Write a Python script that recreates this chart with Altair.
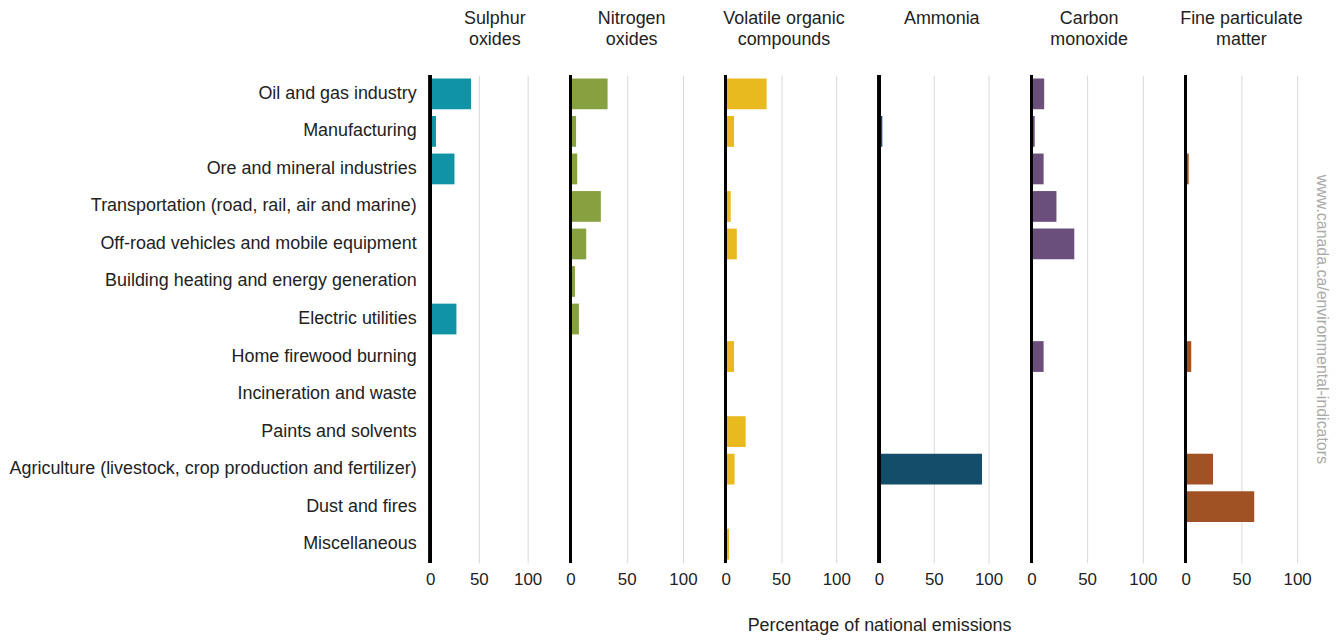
import altair as alt
import pandas as pd

categories = [
    "Oil and gas industry",
    "Manufacturing",
    "Ore and mineral industries",
    "Transportation (road, rail, air and marine)",
    "Off-road vehicles and mobile equipment",
    "Building heating and energy generation",
    "Electric utilities",
    "Home firewood burning",
    "Incineration and waste",
    "Paints and solvents",
    "Agriculture (livestock, crop production and fertilizer)",
    "Dust and fires",
    "Miscellaneous",
]

title_lines = [
    ["Sulphur", "oxides"],
    ["Nitrogen", "oxides"],
    ["Volatile organic", "compounds"],
    ["Ammonia", " "],
    ["Carbon", "monoxide"],
    ["Fine particulate", "matter"],
]

sulphur_oxides = [42, 6, 25, 0, 0, 0, 27, 0, 0, 0, 0, 0, 0]
nitrogen_oxides = [33, 5, 6, 27, 14, 4, 7.5, 0, 0, 0, 0, 0, 0]
volatile_organic = [37, 7.5, 0, 4.5, 10, 0, 0, 7.5, 0, 18, 8, 0, 3]
ammonia = [0, 3, 0, 0, 0, 0, 0, 0, 0, 0, 94, 0, 0]
carbon_monoxide = [11.5, 3, 11, 22.5, 38.5, 0, 0, 11, 0, 0, 0, 0, 0]
fine_pm = [0, 0, 2.7, 0, 0, 0, 0, 5, 0, 0, 24.5, 61.5, 0]

series = [sulphur_oxides, nitrogen_oxides, volatile_organic, ammonia, carbon_monoxide, fine_pm]
colors = ["#0F93A5", "#87A040", "#E9B920", "#134D69", "#6A4E7C", "#A05224"]
widths = [98, 113, 111, 110, 112, 112]
title_dx = [16, 5, 3, 8, 2, 0]

FONT = "Liberation Sans"
FS = 18
panels = []
for i, (lines, vals, color, w, tdx) in enumerate(zip(title_lines, series, colors, widths, title_dx)):
    df = pd.DataFrame({"category": categories, "value": vals})
    if i == 0:
        y_axis = alt.Axis(title=None, labelFontSize=FS, labelColor="#222222", labelPadding=14,
                          ticks=False, domain=False, labelLimit=500, labelFont=FONT)
    else:
        y_axis = None
    x_kwargs = dict(values=[0, 50, 100], grid=True, gridColor="#d9d9d9", gridWidth=1,
                    ticks=False, domain=False, labelFontSize=17, labelColor="#222222",
                    labelPadding=9, labelFont=FONT, labelFlush=False, title=None)
    if i == 2:
        x_kwargs.update(title="Percentage of national emissions", titleX=154, titleY=63,
                        titleFontSize=FS, titleFontWeight="normal", titleColor="#222222",
                        titleBaseline="middle", titleFont=FONT)
    x_axis = alt.Axis(**x_kwargs)
    y = alt.Y("category:N", sort=categories,
              scale=alt.Scale(paddingInner=0.18, paddingOuter=0.09), axis=y_axis)
    bar = alt.Chart(df).mark_bar(color=color).encode(
        x=alt.X("value:Q", scale=alt.Scale(domain=[0, 100]), axis=x_axis),
        y=y,
    )
    rule = alt.Chart(df).mark_rule(color="black", strokeWidth=2.5).encode(x=alt.datum(0))
    panel = alt.layer(bar, rule).properties(
        width=w, height=490,
        title=alt.TitleParams(lines, fontSize=FS, fontWeight="normal", anchor="middle",
                              dx=tdx, offset=25, lineHeight=21, color="#222222", font=FONT),
    )
    panels.append(panel)

chart = alt.hconcat(
    *panels, spacing=43, bounds="flush", padding=0,
    title=alt.TitleParams("www.canada.ca/environmental-indicators", orient="right",
                          anchor="middle", color="#aaaaaa", fontSize=16,
                          fontWeight="normal", offset=3, dx=-3, font=FONT),
).configure(font=FONT).configure_view(stroke=None)

chart.save("out.html", embed_options={"renderer": "svg", "actions": False})
